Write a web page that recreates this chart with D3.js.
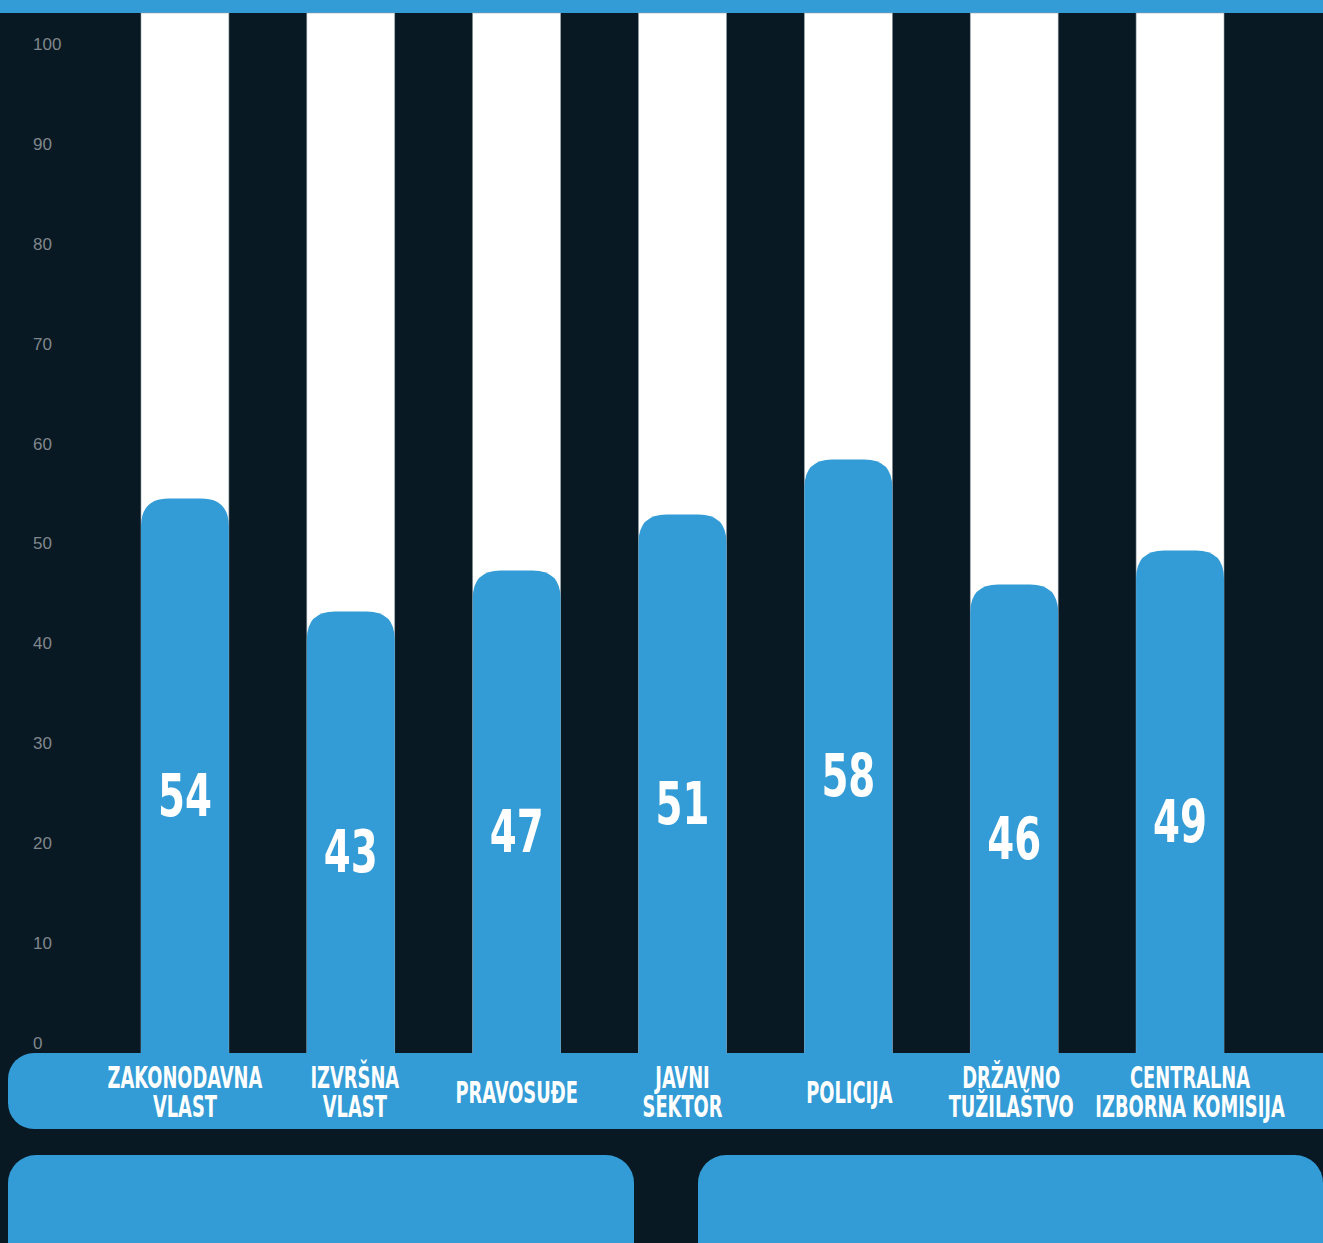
<!DOCTYPE html>
<html>
<head>
<meta charset="utf-8">
<script src="https://cdn.jsdelivr.net/npm/d3@7"></script>
<style>
  html, body { margin: 0; padding: 0; background: #091923; }
  svg { display: block; }
  .tick-label { font-family: "Liberation Sans", Arial, sans-serif; font-size: 17px; fill: #80878c; }
  .cond { font-family: "Liberation Sans Narrow", "DejaVu Sans Condensed", sans-serif; font-weight: bold; fill: #ffffff; }
</style>
</head>
<body>
<svg id="chart"></svg>
<script>
// categories, bar heights as drawn, printed values, axis ticks
var categories = [
  ["ZAKONODAVNA", "VLAST"],
  ["IZVRŠNA", "VLAST"],
  ["PRAVOSUĐE"],
  ["JAVNI", "SEKTOR"],
  ["POLICIJA"],
  ["DRŽAVNO", "TUŽILAŠTVO"],
  ["CENTRALNA", "IZBORNA KOMISIJA"]
];
var barValues = [54.5, 43.2, 47.3, 52.9, 58.4, 45.9, 49.3];
var valueLabels = ["54", "43", "47", "51", "58", "46", "49"];
var yTicks = [0, 10, 20, 30, 40, 50, 60, 70, 80, 90, 100];

var W = 1323, H = 1243;
var blue = "#339bd5", dark = "#091923";

var svg = d3.select("#chart").attr("width", W).attr("height", H);
svg.append("rect").attr("width", W).attr("height", H).attr("fill", dark);

var x = d3.scaleBand()
  .domain(d3.range(categories.length))
  .range([141, 1224])
  .paddingInner(0.47)
  .paddingOuter(0);

var y = d3.scaleLinear().domain([0, 100]).range([1043, 44]);
var baseY = 1053;

// top strip
svg.append("rect").attr("x", 0).attr("y", 0).attr("width", W).attr("height", 13).attr("fill", blue);

// white columns
svg.selectAll(".col")
  .data(barValues)
  .enter()
  .append("rect")
  .attr("class", "col")
  .attr("x", (d, i) => x(i))
  .attr("y", 13)
  .attr("width", x.bandwidth())
  .attr("height", baseY - 13)
  .attr("fill", "#ffffff")
  .attr("stroke", "#9aa3aa")
  .attr("stroke-width", 0.6);

// bars with rounded tops
function topRounded(x0, y0, w, h, r) {
  return "M" + x0 + "," + (y0 + h) +
    "V" + (y0 + r) +
    "Q" + x0 + "," + y0 + " " + (x0 + r) + "," + y0 +
    "H" + (x0 + w - r) +
    "Q" + (x0 + w) + "," + y0 + " " + (x0 + w) + "," + (y0 + r) +
    "V" + (y0 + h) + "Z";
}
svg.selectAll(".bar")
  .data(barValues)
  .enter()
  .append("path")
  .attr("class", "bar")
  .attr("fill", blue)
  .attr("d", (d, i) => topRounded(x(i), y(d), x.bandwidth(), baseY - y(d) + 2, 28));

// value labels
svg.selectAll(".val")
  .data(barValues)
  .enter()
  .append("g")
  .attr("transform", (d, i) => "translate(" + (x(i) + x.bandwidth() / 2) + "," + ((y(d) + baseY) / 2 + 40) + ") scale(0.73,1)")
  .append("text")
  .attr("class", "cond")
  .attr("text-anchor", "middle")
  .style("font-size", "59px")
  .text((d, i) => valueLabels[i]);

// y axis labels
svg.selectAll(".tick-label")
  .data(yTicks)
  .enter()
  .append("text")
  .attr("class", "tick-label")
  .attr("x", 33)
  .attr("y", d => y(d))
  .attr("dy", "0.35em")
  .text(d => d);

// category band
svg.append("rect")
  .attr("x", 8).attr("y", baseY)
  .attr("width", W + 40).attr("height", 76)
  .attr("rx", 26).attr("fill", blue);

var labelShift = [0, 4, 0, 0, 1, -3, 10];
categories.forEach(function (lines, i) {
  var cx = x(i) + x.bandwidth() / 2 + labelShift[i];
  var g = svg.append("g")
    .attr("transform", "translate(" + cx + "," + (lines.length === 1 ? 1103 : 1088) + ") scale(0.64,1)");
  lines.forEach(function (t, j) {
    g.append("text")
      .attr("class", "cond")
      .attr("text-anchor", "middle")
      .attr("y", j * 28.5)
      .style("font-size", "31px")
      .text(t);
  });
});

// bottom panels
svg.append("rect")
  .attr("x", 8).attr("y", 1155)
  .attr("width", 626).attr("height", 140)
  .attr("rx", 28).attr("fill", blue);
svg.append("rect")
  .attr("x", 698).attr("y", 1155)
  .attr("width", 625).attr("height", 140)
  .attr("rx", 28).attr("fill", blue);
</script>
</body>
</html>
